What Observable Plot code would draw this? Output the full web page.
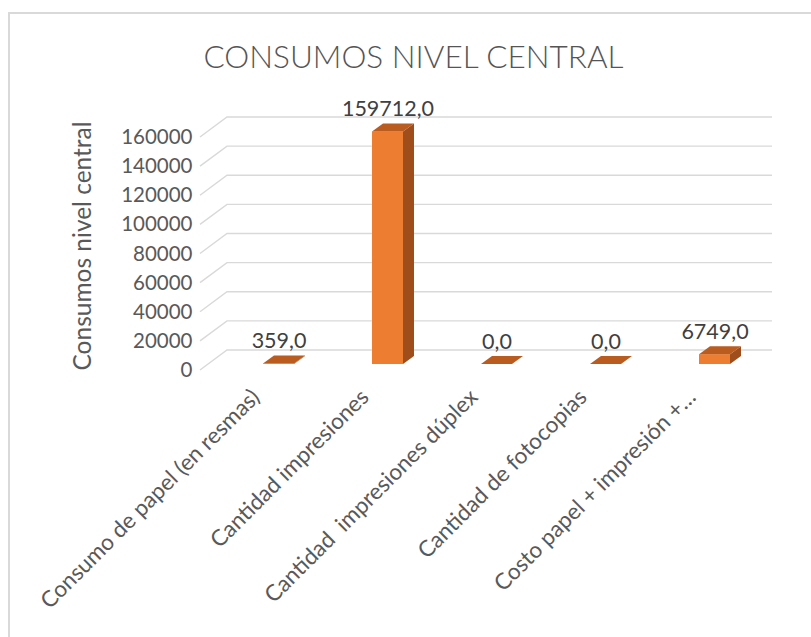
<!DOCTYPE html>
<html>
<head>
<meta charset="utf-8">
<script src="https://cdn.jsdelivr.net/npm/d3@7"></script>
<script src="https://cdn.jsdelivr.net/npm/@observablehq/plot@0.6"></script>
<style>
  html, body { margin: 0; padding: 0; background: #fff; }
  #wrap { position: relative; width: 811px; height: 637px; overflow: hidden; font-family: Lato, "Open Sans", sans-serif; }
  #frame { position: absolute; left: 8px; top: 12px; width: 900px; height: 700px; box-sizing: border-box;
           border-left: 2px solid #d9d9d9; border-top: 2px solid #d9d9d9; }
  #title { position: absolute; left: 8px; top: 0; width: 811px; height: 85px; box-sizing: border-box;
           padding-top: 37px; text-align: center; font-size: 31.5px; line-height: normal; color: #555555; font-weight: 300; }
  #chart { position: absolute; left: 0; top: 85px; }
  #chart svg text { white-space: pre; }
</style>
</head>
<body>
<div id="wrap">
  <div id="frame"></div>
  <div id="title"></div>
  <div id="chart"></div>
</div>
<script>
// ---- data ----
const title = "CONSUMOS NIVEL CENTRAL";
const yLabel = "Consumos nivel central";
const categories = [
  "Consumo de papel (en resmas)",
  "Cantidad impresiones",
  "Cantidad  impresiones dúplex",
  "Cantidad de fotocopias",
  "Costo papel + impresión +…"
];
const values = [359, 159712, 0, 0, 6749];
const yTicks = [0, 20000, 40000, 60000, 80000, 100000, 120000, 140000, 160000];

// ---- styling ----
const FRONT = "#ED7D31", SIDE = "#9E4D1B", TOP = "#BA5B1F", GRID = "#d9d9d9";
const WALL = {dx: 27, dy: -20};   // depth of back wall (px)
const BAR = {dx: 24, dy: -6};     // bar plane offset (px)
const BD = {dx: 11, dy: -8};      // bar depth (px)

const data = categories.map((cat, i) => ({cat, value: values[i]}));
const fmt = v => v.toFixed(1).replace(".", ",");

document.getElementById("title").textContent = title;

function walls(index, scales, values, dims) {
  const y = scales.y;
  const {width, marginLeft, marginRight} = dims;
  const g = d3.create("svg:g");
  for (const t of yTicks) {
    const Y = y(t);
    g.append("path")
      .attr("d", `M${marginLeft},${Y}L${marginLeft + WALL.dx},${Y + WALL.dy}H${width - marginRight + WALL.dx}`)
      .attr("fill", "none").attr("stroke", GRID).attr("stroke-width", 1.4);
  }
  return g.node();
}

function faces(index, scales) {
  const x = scales.x, y = scales.y;
  const bw = typeof x.bandwidth === "function" ? x.bandwidth() : x.bandwidth;
  const g = d3.create("svg:g");
  for (const d of data) {
    const xl = x(d.cat) + BAR.dx, xr = xl + bw;
    const yt = y(d.value) + BAR.dy, yb = y(0) + BAR.dy;
    if (yb - yt > 0.5) {
      g.append("path")
        .attr("d", `M${xr},${yt}L${xr + BD.dx},${yt + BD.dy}L${xr + BD.dx},${yb + BD.dy}L${xr},${yb}Z`)
        .attr("fill", SIDE);
    }
    g.append("path")
      .attr("d", `M${xl},${yt}L${xr},${yt}L${xr + BD.dx},${yt + BD.dy}L${xl + BD.dx},${yt + BD.dy}Z`)
      .attr("fill", TOP);
  }
  return g.node();
}

const chart = Plot.plot({
  width: 811,
  height: 552,
  marginLeft: 200,
  marginRight: 66,
  marginTop: 52,
  marginBottom: 267,
  style: {fontFamily: "Lato, 'Open Sans', sans-serif", color: "#595959", background: "transparent", overflow: "visible"},
  x: {type: "band", domain: categories, paddingInner: 0.716, paddingOuter: 0.358},
  y: {domain: [0, 160000]},
  marks: [
    walls,
    Plot.barY(data, {x: "cat", y: "value", fill: FRONT, dx: BAR.dx, dy: BAR.dy}),
    faces,
    Plot.text(data, {x: "cat", y: "value", text: d => fmt(d.value), dx: BAR.dx, dy: -22,
      lineAnchor: "bottom", fontSize: 21.5, fill: "#404040"}),
    Plot.axisY({ticks: yTicks, tickSize: 0, tickPadding: 8, fontSize: 20.5, tickFormat: d => String(d), label: null}),
    Plot.text([yLabel], {frameAnchor: "left", rotate: -90, dx: -117, dy: -8, fontSize: 24.5,
      textAnchor: "middle", lineAnchor: "middle", fill: "#595959"}),
    Plot.axisX({rotate: -45, tickSize: 0, tickPadding: 23, dx: 1, fontSize: 22.5, label: null,
      textAnchor: "end", lineAnchor: "middle"})
  ]
});
document.getElementById("chart").appendChild(chart);
</script>
</body>
</html>
